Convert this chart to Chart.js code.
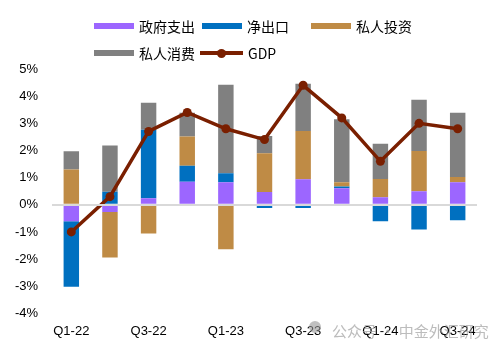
<!DOCTYPE html>
<html>
<head>
<meta charset="utf-8">
<script src="https://cdn.jsdelivr.net/npm/chart.js@4/dist/chart.umd.min.js"></script>
<style>
  html, body { margin: 0; padding: 0; background: #fff; }
  #wrap { position: relative; width: 500px; height: 352px; }
  #c { position: absolute; left: 0; top: 0; }
  .lg { position: absolute; font-family: "Noto Sans CJK SC", sans-serif; font-size: 14px; color: #000; line-height: 16px; white-space: nowrap; }
  .sw { position: absolute; height: 6px; }
  .dot { position: absolute; width: 9px; height: 9px; border-radius: 50%; }
  #wm { position: absolute; left: 332px; top: 320px; font-family: "Noto Sans CJK SC", sans-serif; font-size: 15px; color: rgba(160,160,160,0.7); white-space: nowrap; }
  #wmicon { position: absolute; left: 309px; top: 321px; width: 12px; height: 12px; border-radius: 50%; background: rgba(150,150,150,0.6); }
</style>
</head>
<body>
<div id="wrap">
  <canvas id="c" width="500" height="352"></canvas>
  <div id="legend"></div>
  <div id="wmicon"></div>
  <div id="wm">公众号 · 中金外汇研究</div>
</div>
<script>
const categories = ['Q1-22','Q2-22','Q3-22','Q4-22','Q1-23','Q2-23','Q3-23','Q4-23','Q1-24','Q2-24','Q3-24'];
const govSpending = [-0.61, -0.27, 0.24, 0.85, 0.83, 0.47, 0.94, 0.61, 0.28, 0.50, 0.83];
const netExports = [-2.41, 0.48, 2.52, 0.59, 0.33, -0.12, -0.12, 0.06, -0.61, -0.91, -0.57];
const privInvest = [1.30, -1.67, -1.06, 1.07, -1.64, 1.43, 1.78, 0.16, 0.67, 1.48, 0.19];
const privConsume = [0.67, 1.70, 1.00, 0.88, 3.26, 0.63, 1.74, 2.32, 1.30, 1.89, 2.37];
const gdp = [-1.0, 0.3, 2.7, 3.4, 2.8, 2.4, 4.4, 3.2, 1.6, 3.0, 2.8];
const yTicks = [5, 4, 3, 2, 1, 0, -1, -2, -3, -4];

const seriesNames = ['政府支出', '净出口', '私人投资', '私人消费', 'GDP'];
const colors = ['#9C66FF', '#0070C0', '#BF8B45', '#808080', '#7A1F00'];

// HTML legend
const legendPos = [[94, 26], [202, 26], [311, 26], [94, 53], [200, 53]];
const lg = document.getElementById('legend');
seriesNames.forEach((name, i) => {
  const [x, y] = legendPos[i];
  const sw = document.createElement('div');
  sw.className = 'sw';
  const w = i === 4 ? 43 : 40;
  sw.style.cssText = `left:${x}px;top:${y - (i === 4 ? 2 : 3)}px;width:${w}px;height:${i === 4 ? 4 : 6}px;background:${colors[i]};`;
  lg.appendChild(sw);
  if (i === 4) {
    const d = document.createElement('div');
    d.className = 'dot';
    d.style.cssText = `left:${x + w / 2 - 4.5}px;top:${y - 4.5}px;background:${colors[i]};`;
    lg.appendChild(d);
  }
  const t = document.createElement('div');
  t.className = 'lg';
  t.textContent = name;
  t.style.left = (x + w + 5) + 'px';
  t.style.top = (y - 8) + 'px';
  lg.appendChild(t);
});

const barSeries = [govSpending, netExports, privInvest, privConsume];
const datasets = barSeries.map((d, i) => ({
  type: 'bar',
  label: seriesNames[i],
  data: d,
  backgroundColor: colors[i],
  stack: 's',
  order: 1,
  barPercentage: 0.4,
  categoryPercentage: 1.0,
  borderWidth: 0
}));
datasets.push({
  type: 'line',
  label: 'GDP',
  data: gdp,
  borderColor: colors[4],
  backgroundColor: colors[4],
  borderWidth: 3.5,
  pointRadius: 4.5,
  pointHoverRadius: 4.5,
  pointBackgroundColor: colors[4],
  pointBorderWidth: 0,
  tension: 0,
  order: 0
});

new Chart(document.getElementById('c'), {
  data: { labels: categories, datasets },
  options: {
    responsive: false,
    animation: false,
    events: [],
    layout: { padding: { left: 12, right: 23, top: 69, bottom: 3 } },
    plugins: { legend: { display: false }, tooltip: { enabled: false } },
    scales: {
      x: {
        stacked: true,
        grid: { display: false, drawTicks: false },
        border: { display: false },
        ticks: {
          autoSkip: false,
          maxRotation: 0,
          padding: 10,
          color: '#000',
          font: { family: 'Liberation Sans, Arial', size: 13 },
          callback: function (v, i) { return i % 2 === 0 ? categories[i] : ''; }
        }
      },
      y: {
        stacked: true,
        min: yTicks[yTicks.length - 1],
        max: yTicks[0],
        afterFit: s => { s.width = 40; },
        afterBuildTicks: s => { s.ticks = yTicks.slice().reverse().map(v => ({ value: v })); },
        grid: {
          drawTicks: false,
          z: 1,
          color: ctx => (ctx.tick && ctx.tick.value === 0 ? '#D9D9D9' : 'rgba(0,0,0,0)'),
          lineWidth: ctx => (ctx.tick && ctx.tick.value === 0 ? 2 : 0)
        },
        border: { display: false },
        ticks: {
          padding: 14,
          color: '#000',
          font: { family: 'Liberation Sans, Arial', size: 13 },
          callback: v => v + '%'
        }
      }
    }
  }
});
</script>
</body>
</html>
